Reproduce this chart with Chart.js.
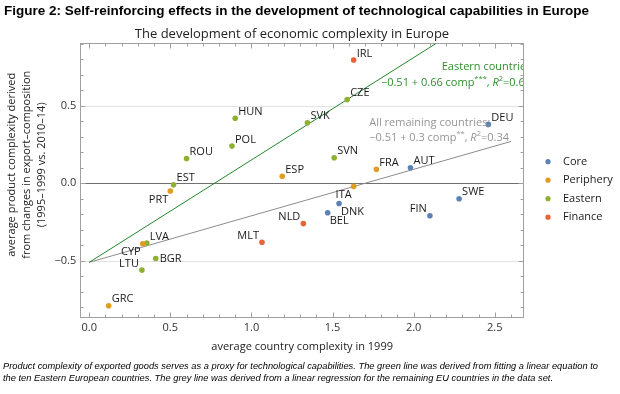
<!DOCTYPE html>
<html><head><meta charset="utf-8">
<script src="https://cdn.jsdelivr.net/npm/chart.js@4.4.0/dist/chart.umd.min.js"></script>
<style>
html,body{margin:0;padding:0;background:#fff;}
#wrap{position:relative;width:620px;height:394px;overflow:hidden;}
#fig{position:absolute;left:4px;top:3px;font:bold 13.5px "Liberation Sans",Arial,sans-serif;color:#000;white-space:nowrap;}
#sub{position:absolute;left:0;width:584px;top:24px;text-align:center;font:13px "Open Sans",sans-serif;color:#222;white-space:nowrap;}
#note{position:absolute;left:3px;top:359.5px;font:italic 9px "Liberation Sans",Arial,sans-serif;line-height:12px;color:#000;white-space:nowrap;transform-origin:0 0;}
canvas{position:absolute;left:0;top:0;}
</style></head>
<body><div id="wrap">
<canvas id="c" width="620" height="394" style="width:620px;height:394px"></canvas>
<div id="fig">Figure 2: Self-reinforcing effects in the development of technological capabilities in Europe</div>
<div id="sub">The development of economic complexity in Europe</div>
<div id="note"><span id="l1">Product complexity of exported goods serves as a proxy for technological capabilities. The green line was derived from fitting a linear equation to</span><br><span>the ten Eastern European countries. The grey line was derived from a linear regression for the remaining EU countries in the data set.</span></div>
</div>
<script>
// ---- data ----
const coreCodes = ['DEU','AUT','SWE','FIN','DNK','BEL'];
const coreX = [2.46, 1.98, 2.28, 2.10, 1.54, 1.47];
const coreY = [0.38, 0.10, -0.10, -0.21, -0.13, -0.19];
const peripheryCodes = ['FRA','ESP','ITA','PRT','CYP','GRC'];
const peripheryX = [1.77, 1.19, 1.63, 0.50, 0.33, 0.12];
const peripheryY = [0.09, 0.045, -0.02, -0.05, -0.39, -0.79];
const easternCodes = ['HUN','POL','ROU','EST','SVK','CZE','SVN','LVA','BGR','LTU'];
const easternX = [0.90, 0.88, 0.60, 0.52, 1.345, 1.59, 1.51, 0.355, 0.41, 0.325];
const easternY = [0.42, 0.24, 0.16, -0.01, 0.39, 0.54, 0.165, -0.385, -0.485, -0.56];
const financeCodes = ['IRL','NLD','MLT'];
const financeX = [1.63, 1.32, 1.065];
const financeY = [0.795, -0.26, -0.38];
const eastFitX = [0, 2.15];
const eastFitY = [-0.51, 0.91];
const restFitX = [0, 2.6];
const restFitY = [-0.51, 0.27];
const xTicks = [0, 0.5, 1.0, 1.5, 2.0, 2.5];
const yTicks = [-0.5, 0, 0.5];
const groupNames = ['Core','Periphery','Eastern','Finance'];

// fit footnote to the reference width
(function () {
  const w = document.getElementById('l1').getBoundingClientRect().width;
  if (w > 0) document.getElementById('note').style.transform = 'scaleX(' + (595 / w) + ')';
})();

// ---- styling / label placement ----
const colors = ['#5E81B5','#E19C24','#8FB032','#EB6235'];
const place = {DEU:'ne',AUT:'ne',SWE:'ne',FIN:'nw',DNK:'se',BEL:'se',
  FRA:'ne',ESP:'ne',ITA:'sw',PRT:'sw',CYP:'sw',GRC:'ne',
  HUN:'ne',POL:'ne',ROU:'ne',EST:'ne',SVK:'ne',CZE:'ne',SVN:'ne',LVA:'ne',BGR:'e',LTU:'nw',
  IRL:'ne',NLD:'nw',MLT:'nw'};
const FONT = '"Open Sans", "Noto Sans", sans-serif';
const SHIFT = '\u00a0'.repeat(11);

const pts = (xs, ys) => xs.map((x, i) => ({x, y: ys[i]}));
const groups = [
  [coreCodes, coreX, coreY], [peripheryCodes, peripheryX, peripheryY],
  [easternCodes, easternX, easternY], [financeCodes, financeX, financeY]
];
const datasets = groups.map((g, i) => ({
  type: 'scatter', label: groupNames[i], codes: g[0], data: pts(g[1], g[2]),
  backgroundColor: colors[i], borderWidth: 0, pointRadius: 2.8, pointHoverRadius: 2.8, order: 0
}));
datasets.push({type:'line', label:'Eastern fit', fit:true, data: pts(eastFitX, eastFitY),
  borderColor:'#21882a', borderWidth:1, pointRadius:0, fill:false, order:2});
datasets.push({type:'line', label:'Rest fit', fit:true, data: pts(restFitX, restFitY),
  borderColor:'#8c8c8c', borderWidth:1, pointRadius:0, fill:false, order:2});

function richText(ctx, x, y, parts, color) {
  ctx.fillStyle = color;
  ctx.textBaseline = 'middle';
  ctx.textAlign = 'left';
  for (const p of parts) {
    const size = p.sup ? 7.5 : 11;
    ctx.font = (p.it ? 'italic ' : '') + size + 'px ' + FONT;
    ctx.fillText(p.t, x, p.sup ? y - 4 : y);
    x += ctx.measureText(p.t).width;
  }
}

const deco = {
  id: 'deco',
  beforeDatasetsDraw(chart) {
    const {ctx, chartArea: a, scales: {y}} = chart;
    ctx.save();
    for (const v of yTicks) {
      const py = Math.round(y.getPixelForValue(v)) + 0.5;
      ctx.strokeStyle = v === 0 ? '#707070' : '#e3e3e3';
      ctx.lineWidth = 1;
      ctx.beginPath(); ctx.moveTo(a.left, py); ctx.lineTo(a.right, py); ctx.stroke();
    }
    ctx.restore();
  },
  afterDatasetsDraw(chart) {
    const {ctx, chartArea: a, scales: {x, y}} = chart;
    ctx.save();
    // point labels
    ctx.font = '11px ' + FONT;
    ctx.fillStyle = '#1a1a1a';
    ctx.textBaseline = 'middle';
    chart.data.datasets.forEach((ds, di) => {
      if (ds.fit) return;
      const meta = chart.getDatasetMeta(di);
      meta.data.forEach((el, i) => {
        const code = ds.codes[i];
        const p = place[code] || 'ne';
        let dx = 3, dy = -6.5, al = 'left';
        if (p === 'sw') { dx = -2; dy = 8.5; al = 'right'; }
        else if (p === 'se') { dx = 2; dy = 8; }
        else if (p === 'nw') { dx = -3; dy = -6.5; al = 'right'; }
        else if (p === 'e') { dx = 4; dy = 0; }
        ctx.textAlign = al;
        ctx.fillText(code, el.x + dx, el.y + dy);
      });
    });
    // annotations (clipped to plot area)
    ctx.save();
    ctx.beginPath(); ctx.rect(a.left, a.top, a.right - a.left, a.bottom - a.top); ctx.clip();
    const g = '#2f8f2f', gr = '#959595';
    richText(ctx, x.getPixelForValue(2.173), y.getPixelForValue(0.75), [{t:'Eastern countries'}], g);
    richText(ctx, x.getPixelForValue(1.798), y.getPixelForValue(0.649),
      [{t:'\u22120.51 + 0.66 comp'},{t:'***',sup:true},{t:', '},{t:'R',it:true},{t:'2',sup:true},{t:'=0.65'}], g);
    richText(ctx, x.getPixelForValue(1.726), y.getPixelForValue(0.391), [{t:'All remaining countries:'}], gr);
    richText(ctx, x.getPixelForValue(1.726), y.getPixelForValue(0.29),
      [{t:'\u22120.51 + 0.3 comp'},{t:'**',sup:true},{t:', '},{t:'R',it:true},{t:'2',sup:true},{t:'=0.34'}], gr);
    ctx.restore();
    // frame with inward ticks
    ctx.strokeStyle = '#a0a0a0';
    ctx.lineWidth = 1;
    const L = Math.round(a.left) + 0.5, R = Math.round(a.right) - 0.5,
          T = Math.round(a.top) + 0.5, B = Math.round(a.bottom) - 0.5;
    ctx.strokeRect(L, T, R - L, B - T);
    ctx.beginPath();
    for (let i = -1; i <= 27; i++) {
      const v = i / 10;
      if (v < x.min || v > x.max) continue;
      const len = i % 5 === 0 ? 5 : 3;
      const px = Math.round(x.getPixelForValue(v)) + 0.5;
      ctx.moveTo(px, B); ctx.lineTo(px, B - len);
      ctx.moveTo(px, T); ctx.lineTo(px, T + len);
    }
    for (let i = -8; i <= 9; i++) {
      const v = i / 10;
      if (v < y.min || v > y.max) continue;
      const len = i % 5 === 0 ? 5 : 3;
      const py = Math.round(y.getPixelForValue(v)) + 0.5;
      ctx.moveTo(L, py); ctx.lineTo(L + len, py);
      ctx.moveTo(R, py); ctx.lineTo(R - len, py);
    }
    ctx.stroke();
    // legend
    let ly = 161.7;
    const lx = a.right + 24;
    chart.data.datasets.forEach(ds => {
      if (ds.fit) return;
      ctx.fillStyle = ds.backgroundColor;
      ctx.beginPath(); ctx.arc(lx, ly, 2.6, 0, Math.PI * 2); ctx.fill();
      ctx.fillStyle = '#1a1a1a';
      ctx.font = '11px ' + FONT;
      ctx.textAlign = 'left'; ctx.textBaseline = 'middle';
      ctx.fillText(ds.label, lx + 15, ly);
      ly += 18.5;
    });
    ctx.restore();
  }
};

const fmt = v => (v < 0 ? '\u2212' : '') + Math.abs(v).toFixed(1);

new Chart(document.getElementById('c'), {
  data: { datasets },
  options: {
    responsive: false, animation: false, devicePixelRatio: 1,
    layout: { padding: { top: 43, right: 96, left: 0, bottom: 33.6 } },
    plugins: { legend: { display: false }, tooltip: { enabled: false }, title: { display: false } },
    scales: {
      x: {
        type: 'linear', position: 'bottom', min: -0.055, max: 2.68,
        afterBuildTicks: s => { s.ticks = xTicks.map(v => ({value: v})); },
        ticks: { callback: fmt, font: { size: 11, family: FONT }, color: '#333', padding: 3, maxRotation: 0, autoSkip: false },
        grid: { display: false, drawTicks: false },
        border: { display: false },
        title: { display: true, text: 'average country complexity in 1999', color: '#222',
          font: { size: 11, family: FONT }, padding: { top: 3, bottom: 7 } }
      },
      y: {
        type: 'linear', position: 'left', min: -0.869, max: 0.905,
        afterBuildTicks: s => { s.ticks = yTicks.map(v => ({value: v})); },
        ticks: { callback: fmt, font: { size: 11, family: FONT }, color: '#333', padding: 4, autoSkip: false },
        grid: { display: false, drawTicks: false },
        border: { display: false },
        title: { display: true,
          text: [SHIFT + 'average product complexity derived', SHIFT + 'from changes in export\u2013composition', SHIFT + '(1995\u20131999 vs. 2010\u201314)'],
          color: '#222', font: { size: 11, family: FONT, lineHeight: 1.364 }, padding: { top: 4.5, bottom: 1 } }
      }
    }
  },
  plugins: [deco]
});
</script>
</body></html>
